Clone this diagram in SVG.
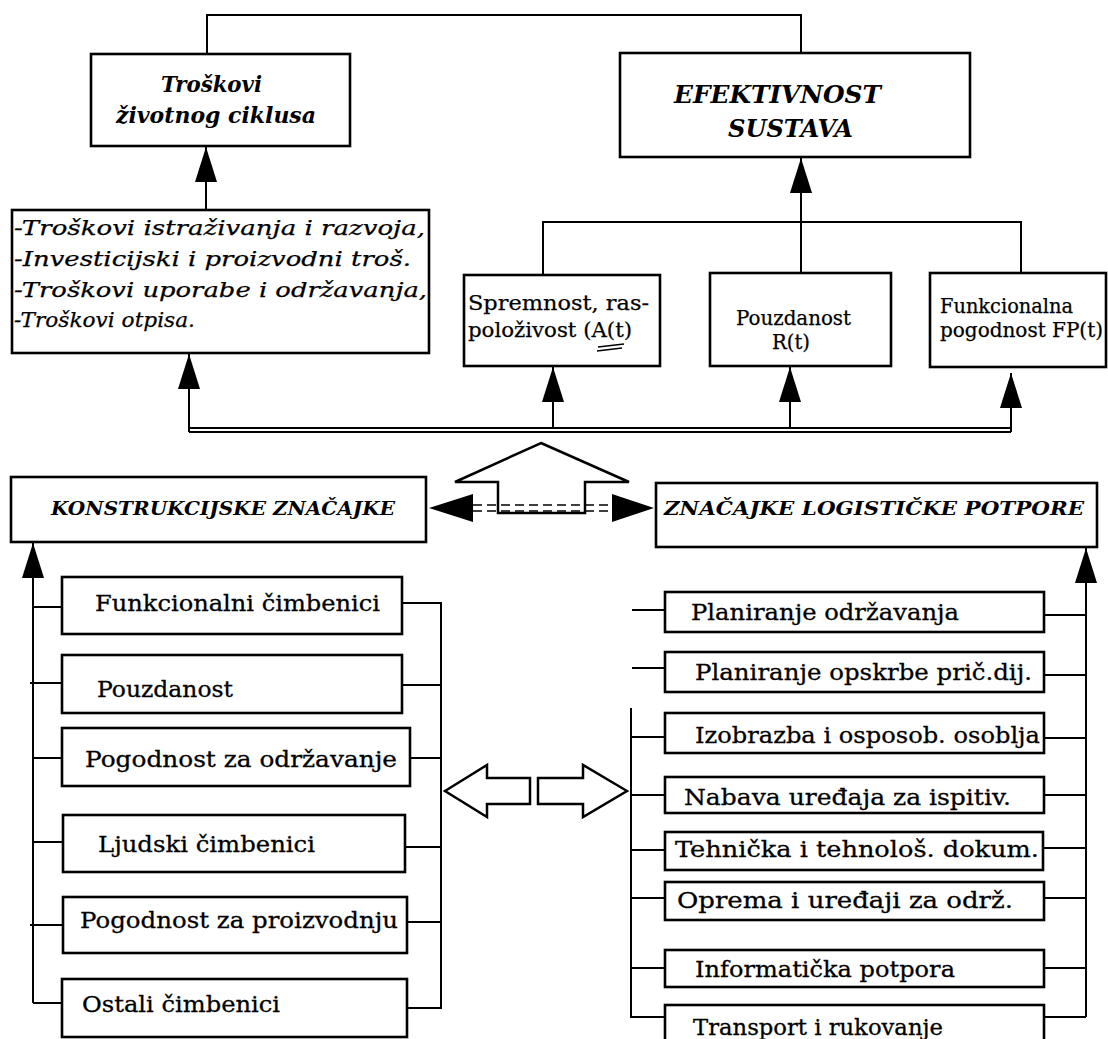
<svg xmlns="http://www.w3.org/2000/svg" width="1108" height="1039" viewBox="0 0 1108 1039">
<style>
.box{fill:#fff;stroke:#000;stroke-width:2.6}
.ln{fill:none;stroke:#000;stroke-width:2}
.hol{fill:#fff;stroke:#000;stroke-width:2.5;stroke-linejoin:miter}
.t{font-family:"DejaVu Serif","Liberation Serif",serif;font-size:23px;fill:#000;stroke:#000;stroke-width:0.3}
.ts{font-family:"DejaVu Serif","Liberation Serif",serif;font-size:20px;fill:#000;stroke:#000;stroke-width:0.25}
.ti{font-family:"DejaVu Serif","Liberation Serif",serif;font-size:21px;font-style:italic;fill:#000;stroke:#000;stroke-width:0.25}
.tb{font-family:"DejaVu Serif","Liberation Serif",serif;font-weight:bold;font-style:italic;fill:#000}
</style>
<defs>
<marker id="ah" markerUnits="userSpaceOnUse" markerWidth="36" markerHeight="22" refX="35" refY="11" orient="auto">
<path d="M0,0 L35,11 L0,22 z" fill="#000"/>
</marker>
</defs>
<rect width="1108" height="1039" fill="#fff"/>
<g id="connectors">
<polyline class="ln" points="207,54 207,15 801,15 801,53"/>
<line class="ln" x1="206" y1="210" x2="206" y2="147" marker-end="url(#ah)"/>
<line class="ln" x1="801" y1="273" x2="801" y2="158" marker-end="url(#ah)"/>
<polyline class="ln" points="543,275 543,222 1021,222 1021,273"/>
<line x1="189" y1="428" x2="1011" y2="428" stroke="#000" stroke-width="2"/>
<line x1="189" y1="432" x2="1011" y2="432" stroke="#000" stroke-width="2"/>
<line class="ln" x1="189" y1="432" x2="189" y2="354" marker-end="url(#ah)"/>
<line class="ln" x1="553" y1="428" x2="553" y2="367" marker-end="url(#ah)"/>
<line class="ln" x1="790" y1="428" x2="790" y2="367" marker-end="url(#ah)"/>
<line class="ln" x1="1011" y1="432" x2="1011" y2="373" marker-end="url(#ah)"/>
<polygon class="hol" points="541,443 629,482 585,482 585,513 498,513 498,482 455,482"/>
<polygon points="429,508 473,494 473,522" fill="#000"/>
<polygon points="654,508 612,494 612,522" fill="#000"/>
<line x1="473" y1="505" x2="612" y2="505" stroke="#000" stroke-width="1.6" stroke-dasharray="9,5"/>
<line x1="473" y1="511" x2="612" y2="511" stroke="#000" stroke-width="1.6" stroke-dasharray="9,5"/>
<line class="ln" x1="33" y1="1003" x2="33" y2="543" marker-end="url(#ah)"/>
<line class="ln" x1="33" y1="607" x2="62" y2="607"/>
<line class="ln" x1="30" y1="683" x2="62" y2="683"/>
<line class="ln" x1="33" y1="758" x2="62" y2="758"/>
<line class="ln" x1="33" y1="842" x2="63" y2="842"/>
<line class="ln" x1="30" y1="925" x2="63" y2="925"/>
<line class="ln" x1="33" y1="1003" x2="62" y2="1003"/>
<polyline class="ln" points="402,603 441,603 441,1008 407,1008"/>
<line class="ln" x1="402" y1="685" x2="441" y2="685"/>
<line class="ln" x1="410" y1="758" x2="441" y2="758"/>
<line class="ln" x1="405" y1="847" x2="441" y2="847"/>
<line class="ln" x1="407" y1="922" x2="441" y2="922"/>
<polygon class="hol" points="445,791 487,765 487,778 530,778 530,804 487,804 487,817"/>
<polygon class="hol" points="627,791 583,765 583,778 538,778 538,804 583,804 583,817"/>
<line class="ln" x1="1086" y1="1017" x2="1086" y2="548" marker-end="url(#ah)"/>
<line class="ln" x1="1044" y1="615" x2="1086" y2="615"/>
<line class="ln" x1="1044" y1="675" x2="1086" y2="675"/>
<line class="ln" x1="1044" y1="738" x2="1086" y2="738"/>
<line class="ln" x1="1044" y1="795" x2="1086" y2="795"/>
<line class="ln" x1="1043" y1="848" x2="1086" y2="848"/>
<line class="ln" x1="1044" y1="898" x2="1086" y2="898"/>
<line class="ln" x1="1044" y1="968" x2="1086" y2="968"/>
<line class="ln" x1="1044" y1="1017" x2="1086" y2="1017"/>
<line class="ln" x1="632" y1="610" x2="665" y2="610"/>
<line class="ln" x1="632" y1="668" x2="665" y2="668"/>
<polyline class="ln" points="631,708 631,1017 665,1017"/>
<line class="ln" x1="631" y1="737" x2="665" y2="737"/>
<line class="ln" x1="631" y1="795" x2="665" y2="795"/>
<line class="ln" x1="631" y1="850" x2="665" y2="850"/>
<line class="ln" x1="631" y1="898" x2="665" y2="898"/>
<line class="ln" x1="631" y1="968" x2="665" y2="968"/>
</g>
<g id="n-troskovi">
<rect class="box" x="91" y="54" width="259" height="92"/>
<text class="tb" font-size="23" x="161" y="92" textLength="101" lengthAdjust="spacingAndGlyphs">Troškovi</text>
<text class="tb" font-size="23" x="116" y="123" textLength="200" lengthAdjust="spacingAndGlyphs">životnog ciklusa</text>
</g>
<g id="n-efektivnost">
<rect class="box" x="620" y="53" width="350" height="104"/>
<text class="tb" font-size="24" x="674" y="103" textLength="207" lengthAdjust="spacingAndGlyphs">EFEKTIVNOST</text>
<text class="tb" font-size="24" x="728" y="137" textLength="125" lengthAdjust="spacingAndGlyphs">SUSTAVA</text>
</g>
<g id="n-troskovi-lista">
<rect class="box" x="12" y="210" width="417" height="143"/>
<text class="ti" x="14" y="235" textLength="411" lengthAdjust="spacingAndGlyphs">-Troškovi istraživanja i razvoja,</text>
<text class="ti" x="14" y="266" textLength="397" lengthAdjust="spacingAndGlyphs">-Investicijski i proizvodni troš.</text>
<text class="ti" x="14" y="297" textLength="413" lengthAdjust="spacingAndGlyphs">-Troškovi uporabe i održavanja,</text>
<text class="ti" x="14" y="327" textLength="181" lengthAdjust="spacingAndGlyphs">-Troškovi otpisa.</text>
</g>
<g id="n-spremnost">
<rect class="box" x="464" y="275" width="196" height="91"/>
<text class="ts" x="468" y="310" textLength="181" lengthAdjust="spacingAndGlyphs">Spremnost, ras-</text>
<text class="ts" x="468" y="337" textLength="164" lengthAdjust="spacingAndGlyphs">položivost (A(t)</text>
<path d="M598,347 L624,344 M597,351 L622,348" stroke="#000" stroke-width="1.3" fill="none"/>
</g>
<g id="n-pouzdanost-rt">
<rect class="box" x="710" y="273" width="181" height="93"/>
<text class="ts" x="736" y="325" textLength="115" lengthAdjust="spacingAndGlyphs">Pouzdanost</text>
<text class="ts" x="772" y="349" textLength="38" lengthAdjust="spacingAndGlyphs">R(t)</text>
</g>
<g id="n-funkcionalna">
<rect class="box" x="930" y="273" width="176" height="94"/>
<text class="ts" x="940" y="313" textLength="133" lengthAdjust="spacingAndGlyphs">Funkcionalna</text>
<text class="ts" x="940" y="337" textLength="163" lengthAdjust="spacingAndGlyphs">pogodnost FP(t)</text>
</g>
<g id="n-konstrukcijske">
<rect class="box" x="11" y="477" width="415" height="65"/>
<text class="tb" font-size="18" x="51" y="515" textLength="344" lengthAdjust="spacingAndGlyphs">KONSTRUKCIJSKE ZNAČAJKE</text>
</g>
<g id="n-logisticke">
<rect class="box" x="656" y="483" width="441" height="64"/>
<text class="tb" font-size="18" x="664" y="515" textLength="420" lengthAdjust="spacingAndGlyphs">ZNAČAJKE LOGISTIČKE POTPORE</text>
</g>
<g id="n-funkcionalni">
<rect class="box" x="62" y="577" width="340" height="57"/>
<text class="t" x="95" y="611" textLength="285" lengthAdjust="spacingAndGlyphs">Funkcionalni čimbenici</text>
</g>
<g id="n-pouzdanost">
<rect class="box" x="62" y="655" width="340" height="58"/>
<text class="t" x="97" y="697" textLength="136" lengthAdjust="spacingAndGlyphs">Pouzdanost</text>
</g>
<g id="n-odrzavanje">
<rect class="box" x="62" y="728" width="348" height="58"/>
<text class="t" x="85" y="767" textLength="312" lengthAdjust="spacingAndGlyphs">Pogodnost za održavanje</text>
</g>
<g id="n-ljudski">
<rect class="box" x="63" y="815" width="342" height="57"/>
<text class="t" x="98" y="852" textLength="217" lengthAdjust="spacingAndGlyphs">Ljudski čimbenici</text>
</g>
<g id="n-proizvodnju">
<rect class="box" x="63" y="897" width="344" height="56"/>
<text class="t" x="80" y="928" textLength="318" lengthAdjust="spacingAndGlyphs">Pogodnost za proizvodnju</text>
</g>
<g id="n-ostali">
<rect class="box" x="62" y="979" width="345" height="58"/>
<text class="t" x="82" y="1012" textLength="198" lengthAdjust="spacingAndGlyphs">Ostali čimbenici</text>
</g>
<g id="n-plan-odrz">
<rect class="box" x="665" y="592" width="379" height="40"/>
<text class="t" x="691" y="620" textLength="268" lengthAdjust="spacingAndGlyphs">Planiranje održavanja</text>
</g>
<g id="n-plan-opskrbe">
<rect class="box" x="665" y="652" width="379" height="40"/>
<text class="t" x="695" y="680" textLength="337" lengthAdjust="spacingAndGlyphs">Planiranje opskrbe prič.dij.</text>
</g>
<g id="n-izobrazba">
<rect class="box" x="665" y="713" width="379" height="40"/>
<text class="t" x="695" y="743" textLength="345" lengthAdjust="spacingAndGlyphs">Izobrazba i osposob. osoblja</text>
</g>
<g id="n-nabava">
<rect class="box" x="665" y="777" width="379" height="36"/>
<text class="t" x="684" y="805" textLength="327" lengthAdjust="spacingAndGlyphs">Nabava uređaja za ispitiv.</text>
</g>
<g id="n-tehnicka">
<rect class="box" x="665" y="832" width="378" height="38"/>
<text class="t" x="675" y="857" textLength="364" lengthAdjust="spacingAndGlyphs">Tehnička i tehnološ. dokum.</text>
</g>
<g id="n-oprema">
<rect class="box" x="665" y="882" width="379" height="38"/>
<text class="t" x="677" y="908" textLength="336" lengthAdjust="spacingAndGlyphs">Oprema i uređaji za održ.</text>
</g>
<g id="n-informaticka">
<rect class="box" x="665" y="950" width="379" height="37"/>
<text class="t" x="695" y="977" textLength="260" lengthAdjust="spacingAndGlyphs">Informatička potpora</text>
</g>
<g id="n-transport">
<rect class="box" x="665" y="1005" width="379" height="40"/>
<text class="t" x="693" y="1035" textLength="250" lengthAdjust="spacingAndGlyphs">Transport i rukovanje</text>
</g>
</svg>
